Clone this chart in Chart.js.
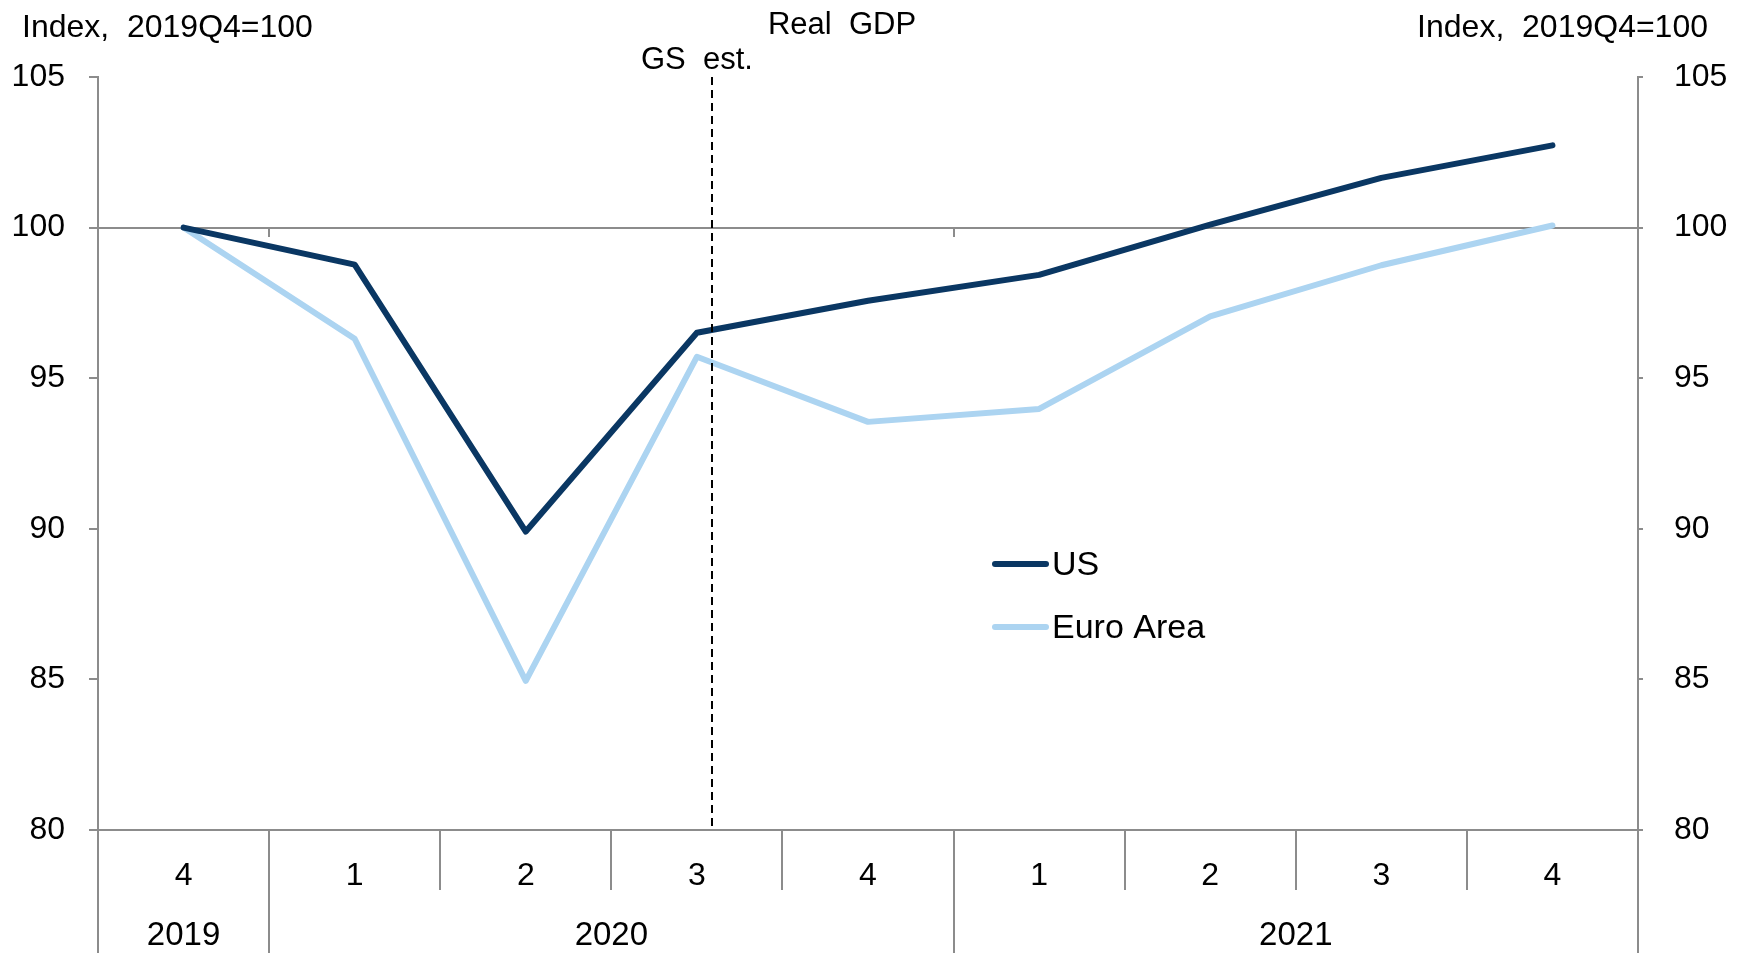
<!DOCTYPE html>
<html>
<head>
<meta charset="utf-8">
<title>Real GDP</title>
<script src="https://cdn.jsdelivr.net/npm/chart.js@4.4.1/dist/chart.umd.min.js"></script>
<style>
    html, body { margin: 0; padding: 0; background: #ffffff; }
    #wrap { width: 1744px; height: 953px; position: relative; }
</style>
</head>
<body>
<div id="wrap"><canvas id="gdpChart"></canvas></div>
<script>
// --- data ---
const quarters = ['4', '1', '2', '3', '4', '1', '2', '3', '4'];
const years = ['2019', '2020', '2021'];
const quartersPerYear = [1, 4, 4];
const usGdp = [100, 98.77, 89.91, 96.51, 97.57, 98.43, 100.1, 101.65, 102.73];
const euroAreaGdp = [100, 96.31, 84.95, 95.71, 93.55, 93.98, 97.05, 98.75, 100.07];
const yMin = 80;
const yMax = 105;
const yStep = 5;
const baseline = 100;
const estimateLine = 3.09; // where the GS est. marker sits, in quarter index units

const chartFont = "'Liberation Sans', Arial, sans-serif";
const axisGray = '#8c8c8c';

// extra bits Excel draws: baseline at 100, year boxes, estimate marker, headers, legend
const decorations = {
    id: 'decorations',
    beforeDatasetsDraw(chart) {
        const { ctx, chartArea, scales: { x, y } } = chart;
        const y100 = Math.round(y.getPixelForValue(baseline));
        ctx.save();
        ctx.strokeStyle = axisGray;
        ctx.lineWidth = 2;
        ctx.beginPath();
        ctx.moveTo(chartArea.left, y100);
        ctx.lineTo(chartArea.right, y100);
        let idx = 0;
        quartersPerYear.forEach(n => {
            idx += n;
            if (idx < quarters.length) {
                const px = Math.round(x.getPixelForValue(idx - 0.5));
                ctx.moveTo(px, y100);
                ctx.lineTo(px, y100 + 9);
            }
        });
        ctx.stroke();
        ctx.restore();
    },
    afterDraw(chart) {
        const { ctx, chartArea, scales: { x } } = chart;
        ctx.save();

        // year dividers + year labels
        ctx.strokeStyle = axisGray;
        ctx.lineWidth = 2;
        ctx.fillStyle = '#000';
        ctx.font = '33px ' + chartFont;
        ctx.textAlign = 'center';
        ctx.textBaseline = 'middle';
        ctx.beginPath();
        let start = 0;
        const first = Math.round(x.getPixelForValue(-0.5));
        ctx.moveTo(first, chartArea.bottom);
        ctx.lineTo(first, chart.height);
        years.forEach((yr, i) => {
            const end = start + quartersPerYear[i];
            const px = Math.round(x.getPixelForValue(end - 0.5));
            ctx.moveTo(px, chartArea.bottom);
            ctx.lineTo(px, chart.height);
            ctx.fillText(yr, x.getPixelForValue((start + end - 1) / 2), 936);
            start = end;
        });
        ctx.stroke();

        // GS estimate marker
        const ex = Math.round(x.getPixelForValue(estimateLine));
        ctx.strokeStyle = '#000';
        ctx.setLineDash([8, 5]);
        ctx.beginPath();
        ctx.moveTo(ex, chartArea.top);
        ctx.lineTo(ex, chartArea.bottom);
        ctx.stroke();
        ctx.setLineDash([]);

        // headers
        ctx.font = '32px ' + chartFont;
        ctx.textAlign = 'left';
        ctx.fillText('Index,  2019Q4=100', 22, 28);
        ctx.textAlign = 'right';
        ctx.fillText('Index,  2019Q4=100', 1708, 28);
        ctx.font = '31px ' + chartFont;
        ctx.textAlign = 'center';
        ctx.fillText('Real  GDP', 842, 25);
        ctx.fillText('GS  est.', x.getPixelForValue(3), 60);

        // legend
        ctx.font = '34px ' + chartFont;
        ctx.textAlign = 'left';
        ctx.lineCap = 'round';
        ctx.lineWidth = 6;
        const legendY = [564, 627];
        chart.data.datasets.forEach((ds, i) => {
            ctx.strokeStyle = ds.borderColor;
            ctx.beginPath();
            ctx.moveTo(995, legendY[i]);
            ctx.lineTo(1046, legendY[i]);
            ctx.stroke();
            ctx.fillText(ds.label, 1052, legendY[i] + 2);
        });
        ctx.restore();
    }
};

const yAxisCommon = {
    min: yMin,
    max: yMax,
    grid: { drawOnChartArea: false, drawTicks: true, color: axisGray, lineWidth: 2 },
    border: { display: true, color: axisGray, width: 2 },
};

const ctx = document.getElementById('gdpChart').getContext('2d');
const gdpChart = new Chart(ctx, {
    type: 'line',
    data: {
        labels: quarters,
        datasets: [{
            label: 'US',
            data: usGdp,
            borderColor: '#0a3763',
            borderWidth: 6,
            pointRadius: 0,
            tension: 0,
            borderCapStyle: 'round',
            borderJoinStyle: 'round',
            yAxisID: 'y'
        }, {
            label: 'Euro Area',
            data: euroAreaGdp,
            borderColor: '#acd4f1',
            borderWidth: 6,
            pointRadius: 0,
            tension: 0,
            borderCapStyle: 'round',
            borderJoinStyle: 'round',
            yAxisID: 'y'
        }]
    },
    options: {
        responsive: true,
        maintainAspectRatio: false,
        animation: false,
        layout: { padding: { top: 77, left: 0, right: 0, bottom: 0 } },
        scales: {
            x: {
                type: 'category',
                offset: true,
                grid: { offset: true, drawOnChartArea: false, drawTicks: true, tickLength: 60, color: axisGray, lineWidth: 2 },
                border: { display: true, color: axisGray, width: 2 },
                ticks: {
                    autoSkip: false,
                    maxRotation: 0,
                    padding: -33,
                    color: '#000',
                    font: { family: chartFont, size: 32 }
                },
                afterFit: s => { s.height = 123; }
            },
            y: {
                ...yAxisCommon,
                position: 'left',
                grid: { ...yAxisCommon.grid, tickLength: 9 },
                ticks: { stepSize: yStep, padding: 24, color: '#000', font: { family: chartFont, size: 32 } },
                afterFit: s => { s.width = 98; }
            },
            y2: {
                ...yAxisCommon,
                position: 'right',
                grid: { ...yAxisCommon.grid, tickLength: 5 },
                ticks: { stepSize: yStep, padding: 31, color: '#000', font: { family: chartFont, size: 32 } },
                afterFit: s => { s.width = 106; }
            }
        },
        plugins: {
            legend: { display: false },
            tooltip: { enabled: false }
        }
    },
    plugins: [decorations]
});
</script>
</body>
</html>
